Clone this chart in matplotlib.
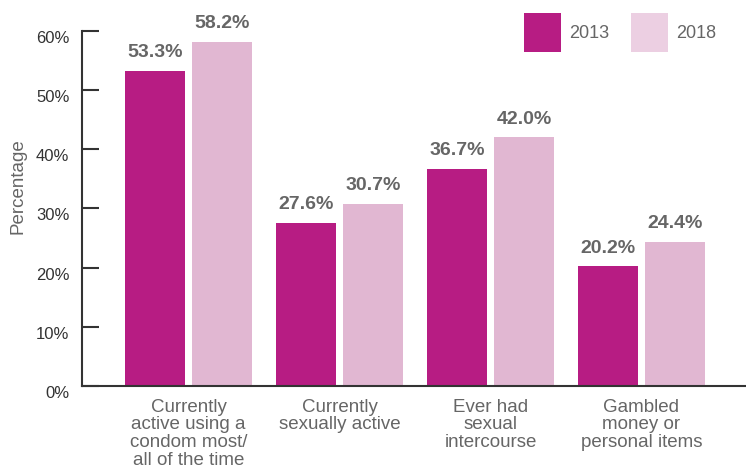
import matplotlib
matplotlib.use("Agg")
import matplotlib.pyplot as plt
import matplotlib.transforms as mtransforms
from matplotlib.patches import Patch
import numpy as np

plt.rcParams['font.family'] = ['Liberation Sans', 'DejaVu Sans']

categories = ["Currently\nactive using a\ncondom most/\nall of the time",
              "Currently\nsexually active",
              "Ever had\nsexual\nintercourse",
              "Gambled\nmoney or\npersonal items"]
series_names = ["2013", "2018"]
values_2013 = [53.3, 27.6, 36.7, 20.2]
values_2018 = [58.2, 30.7, 42.0, 24.4]
yticks = [0, 10, 20, 30, 40, 50, 60]
ytick_labels = ["0%", "10%", "20%", "30%", "40%", "50%", "60%"]

c2013 = "#B71C83"
c2018 = "#E1B7D2"
c2018_leg = "#ECCFE2"
val_color = "#666666"
axis_color = "#333333"

fig = plt.figure(figsize=(7.46, 4.70), dpi=100)
ax = fig.add_axes([82/746, 1-386/470, 1-82/746, 355/470])

x = np.arange(len(categories))
w = 0.397
off = 0.222
b1 = ax.bar(x - off, values_2013, w, color=c2013, label=series_names[0])
b2 = ax.bar(x + off, values_2018, w, color=c2018, label=series_names[1])

for bars, vals in ((b1, values_2013), (b2, values_2018)):
    for rect, v in zip(bars, vals):
        ax.annotate(f"{v:.1f}%", (rect.get_x() + rect.get_width()/2, v),
                    xytext=(0, 10), textcoords="offset points",
                    ha="center", va="baseline", fontsize=14,
                    fontweight="bold", color=val_color, annotation_clip=False)

ax.set_xlim((82-188.5)/151, (746-188.5)/151)
ax.set_ylim(0, 60)
ax.set_yticks(yticks)
ax.set_yticklabels(ytick_labels, fontsize=12, color=axis_color)
ax.set_xticks(x)
ax.set_xticklabels(categories, fontsize=13.5, color=val_color, linespacing=1.06, va="top")
ax.tick_params(axis="x", length=0, pad=9)
ax.tick_params(axis="y", direction="in", length=12.2, width=1.5, color=axis_color, pad=9)

shift = mtransforms.ScaledTranslation(0, -6/100, fig.dpi_scale_trans)
for lab in ax.get_yticklabels():
    lab.set_transform(lab.get_transform() + shift)

for s in ("top", "right"):
    ax.spines[s].set_visible(False)
for s in ("left", "bottom"):
    ax.spines[s].set_color(axis_color)
    ax.spines[s].set_linewidth(1.5)

ax.set_ylabel("Percentage", fontsize=13.5, color=val_color)
ax.yaxis.set_label_coords((27-82)/664, 0.562)

handles = [Patch(facecolor=c2013, label=series_names[0]),
           Patch(facecolor=c2018_leg, label=series_names[1])]
leg = ax.legend(handles=handles, ncol=2, frameon=False, fontsize=13,
                handlelength=2.05, handleheight=2.96, handletextpad=0.45,
                columnspacing=1.2, loc="upper right",
                bbox_to_anchor=(716/746, 1-13/470), bbox_transform=fig.transFigure,
                borderpad=0, borderaxespad=0)
for t in leg.get_texts():
    t.set_color(val_color)

fig.savefig("out.png", dpi=100)
